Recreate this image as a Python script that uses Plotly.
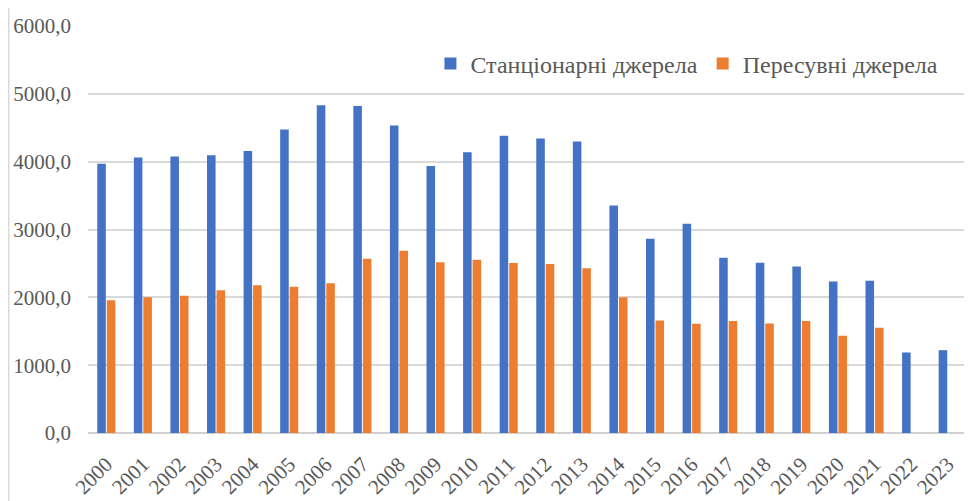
import plotly.graph_objects as go

years = [str(y) for y in range(2000, 2024)]
stationary = [3970, 4060, 4078, 4093, 4156, 4476, 4830, 4820, 4535, 3935, 4137, 4383,
              4343, 4299, 3353, 2865, 3084, 2583, 2510, 2455, 2235, 2245, 1187, 1221]
mobile = [1956, 2000, 2025, 2103, 2177, 2157, 2206, 2570, 2688, 2516, 2555, 2506,
          2491, 2427, 2000, 1660, 1611, 1650, 1615, 1650, 1435, 1552, None, None]

series_names = ["Станціонарні джерела", "Пересувні джерела"]

fig = go.Figure()
fig.add_trace(go.Bar(x=years, y=stationary, name=series_names[0],
                     marker=dict(color="#4472C4", line=dict(width=0))))
fig.add_trace(go.Bar(x=years, y=mobile, name=series_names[1],
                     marker=dict(color="#ED7D31", line=dict(width=0))))

font_family = "Liberation Serif, Times New Roman, serif"

fig.update_layout(
    width=964, height=493,
    margin=dict(l=80, r=6, t=18, b=68),
    paper_bgcolor="white", plot_bgcolor="white",
    barmode="group", bargap=0.48, bargroupgap=0.1,
    separators=", ",
    font=dict(family=font_family, size=21, color="#595959"),
    showlegend=True,
    legend=dict(orientation="h", x=0.39, y=0.907, xanchor="left", yanchor="middle",
                font=dict(family=font_family, size=24, color="#595959"),
                bgcolor="rgba(0,0,0,0)", itemwidth=30),
    xaxis=dict(tickangle=-45, showgrid=False, showline=False, ticks="",
               automargin=False, ticklabelstandoff=14,
               tickfont=dict(family=font_family, size=21, color="#595959")),
    yaxis=dict(range=[0, 6000], dtick=1000, tickformat=".1f", showgrid=True,
               gridcolor="#d9d9d9", gridwidth=1.5, zeroline=True,
               zerolinecolor="#d0d0d0", zerolinewidth=2, showline=False,
               ticks="", ticklabelstandoff=16, automargin=False,
               tickfont=dict(family=font_family, size=21, color="#595959")),
    shapes=[dict(type="line", xref="paper", yref="paper", x0=-0.0903, x1=-0.0903,
                 y0=-0.2, y1=1.1, line=dict(color="#d9d9d9", width=1.5))],
)

fig.write_html("out.html")
